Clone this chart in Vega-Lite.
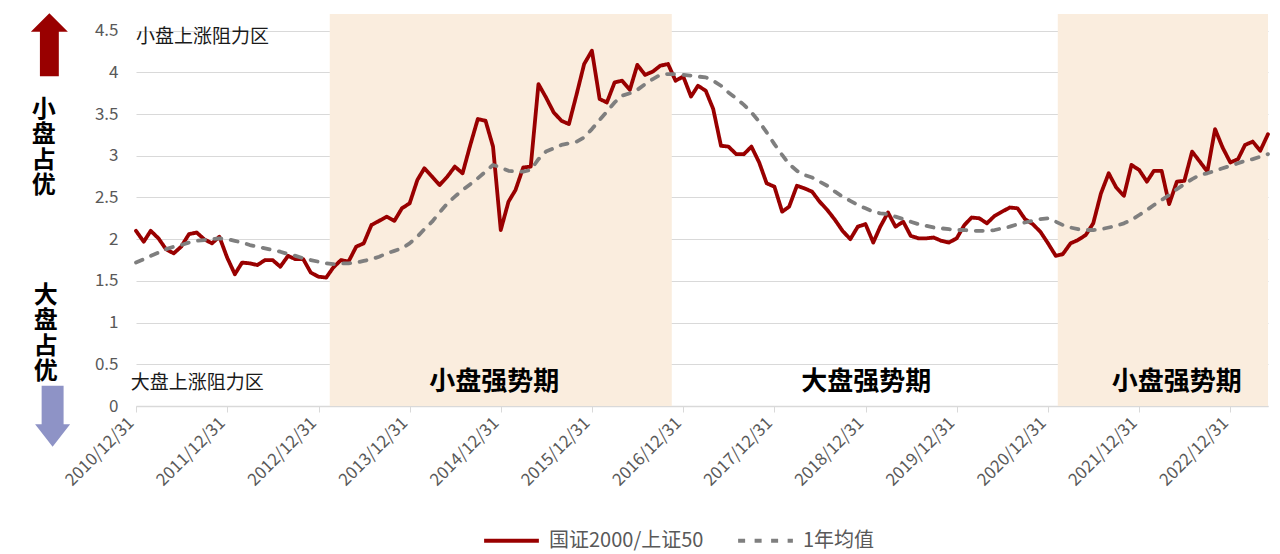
{
  "$schema": "https://vega.github.io/schema/vega-lite/v6.json",
  "width": 1132,
  "height": 392,
  "autosize": {"type": "none"},
  "padding": {"left": 136, "top": 14, "right": 12, "bottom": 148},
  "background": "white",
  "config": {"font": "Noto Sans CJK SC", "view": {"stroke": null}},
  "datasets": {
    "bands": [
      {"s": "2013-02-14", "e": "2016-11-15"},
      {"s": "2021-02-08", "e": "2023-05-31"}
    ],
    "series": [
      {"d": "2010-12-31", "国证2000/上证50": 2.10, "1年均值": 1.72},
      {"d": "2011-01-31", "国证2000/上证50": 1.97, "1年均值": 1.76},
      {"d": "2011-02-28", "国证2000/上证50": 2.10, "1年均值": 1.80},
      {"d": "2011-03-31", "国证2000/上证50": 2.01, "1年均值": 1.84},
      {"d": "2011-04-30", "国证2000/上证50": 1.88, "1年均值": 1.88},
      {"d": "2011-05-31", "国证2000/上证50": 1.83, "1年均值": 1.91},
      {"d": "2011-06-30", "国证2000/上证50": 1.91, "1年均值": 1.93},
      {"d": "2011-07-31", "国证2000/上证50": 2.06, "1年均值": 1.96},
      {"d": "2011-08-31", "国证2000/上证50": 2.08, "1年均值": 1.98},
      {"d": "2011-09-30", "国证2000/上证50": 2.00, "1年均值": 1.99},
      {"d": "2011-10-31", "国证2000/上证50": 1.95, "1年均值": 2.00},
      {"d": "2011-11-30", "国证2000/上证50": 2.03, "1年均值": 2.01},
      {"d": "2011-12-31", "国证2000/上证50": 1.78, "1年均值": 2.00},
      {"d": "2012-01-31", "国证2000/上证50": 1.58, "1年均值": 1.98},
      {"d": "2012-02-29", "国证2000/上证50": 1.72, "1年均值": 1.96},
      {"d": "2012-03-31", "国证2000/上证50": 1.71, "1年均值": 1.93},
      {"d": "2012-04-30", "国证2000/上证50": 1.69, "1年均值": 1.91},
      {"d": "2012-05-31", "国证2000/上证50": 1.75, "1年均值": 1.89},
      {"d": "2012-06-30", "国证2000/上证50": 1.75, "1年均值": 1.87},
      {"d": "2012-07-31", "国证2000/上证50": 1.67, "1年均值": 1.85},
      {"d": "2012-08-31", "国证2000/上证50": 1.80, "1年均值": 1.82},
      {"d": "2012-09-30", "国证2000/上证50": 1.76, "1年均值": 1.80},
      {"d": "2012-10-31", "国证2000/上证50": 1.76, "1年均值": 1.77},
      {"d": "2012-11-30", "国证2000/上证50": 1.60, "1年均值": 1.75},
      {"d": "2012-12-31", "国证2000/上证50": 1.55, "1年均值": 1.73},
      {"d": "2013-01-31", "国证2000/上证50": 1.54, "1年均值": 1.71},
      {"d": "2013-02-28", "国证2000/上证50": 1.66, "1年均值": 1.70},
      {"d": "2013-03-31", "国证2000/上证50": 1.75, "1年均值": 1.71},
      {"d": "2013-04-30", "国证2000/上证50": 1.73, "1年均值": 1.71},
      {"d": "2013-05-31", "国证2000/上证50": 1.91, "1年均值": 1.72},
      {"d": "2013-06-30", "国证2000/上证50": 1.95, "1年均值": 1.74},
      {"d": "2013-07-31", "国证2000/上证50": 2.17, "1年均值": 1.76},
      {"d": "2013-08-31", "国证2000/上证50": 2.22, "1年均值": 1.79},
      {"d": "2013-09-30", "国证2000/上证50": 2.27, "1年均值": 1.83},
      {"d": "2013-10-31", "国证2000/上证50": 2.22, "1年均值": 1.86},
      {"d": "2013-11-30", "国证2000/上证50": 2.37, "1年均值": 1.89},
      {"d": "2013-12-31", "国证2000/上证50": 2.43, "1年均值": 1.95},
      {"d": "2014-01-31", "国证2000/上证50": 2.71, "1年均值": 2.03},
      {"d": "2014-02-28", "国证2000/上证50": 2.85, "1年均值": 2.12},
      {"d": "2014-03-31", "国证2000/上证50": 2.75, "1年均值": 2.21},
      {"d": "2014-04-30", "国证2000/上证50": 2.65, "1年均值": 2.32},
      {"d": "2014-05-31", "国证2000/上证50": 2.75, "1年均值": 2.43},
      {"d": "2014-06-30", "国证2000/上证50": 2.87, "1年均值": 2.51},
      {"d": "2014-07-31", "国证2000/上证50": 2.79, "1年均值": 2.59},
      {"d": "2014-08-31", "国证2000/上证50": 3.13, "1年均值": 2.66},
      {"d": "2014-09-30", "国证2000/上证50": 3.44, "1年均值": 2.73},
      {"d": "2014-10-31", "国证2000/上证50": 3.42, "1年均值": 2.81},
      {"d": "2014-11-30", "国证2000/上证50": 3.11, "1年均值": 2.89},
      {"d": "2014-12-31", "国证2000/上证50": 2.11, "1年均值": 2.86},
      {"d": "2015-01-31", "国证2000/上证50": 2.45, "1年均值": 2.82},
      {"d": "2015-02-28", "国证2000/上证50": 2.59, "1年均值": 2.81},
      {"d": "2015-03-31", "国证2000/上证50": 2.86, "1年均值": 2.81},
      {"d": "2015-04-30", "国证2000/上证50": 2.87, "1年均值": 2.83},
      {"d": "2015-05-31", "国证2000/上证50": 3.86, "1年均值": 2.96},
      {"d": "2015-06-30", "国证2000/上证50": 3.70, "1年均值": 3.05},
      {"d": "2015-07-31", "国证2000/上证50": 3.52, "1年均值": 3.09},
      {"d": "2015-08-31", "国证2000/上证50": 3.42, "1年均值": 3.13},
      {"d": "2015-09-30", "国证2000/上证50": 3.38, "1年均值": 3.15},
      {"d": "2015-10-31", "国证2000/上证50": 3.74, "1年均值": 3.17},
      {"d": "2015-11-30", "国证2000/上证50": 4.10, "1年均值": 3.22},
      {"d": "2015-12-31", "国证2000/上证50": 4.26, "1年均值": 3.32},
      {"d": "2016-01-31", "国证2000/上证50": 3.68, "1年均值": 3.43},
      {"d": "2016-02-29", "国证2000/上证50": 3.64, "1年均值": 3.53},
      {"d": "2016-03-31", "国证2000/上证50": 3.88, "1年均值": 3.64},
      {"d": "2016-04-30", "国证2000/上证50": 3.90, "1年均值": 3.72},
      {"d": "2016-05-31", "国证2000/上证50": 3.79, "1年均值": 3.75},
      {"d": "2016-06-30", "国证2000/上证50": 4.09, "1年均值": 3.79},
      {"d": "2016-07-31", "国证2000/上证50": 3.97, "1年均值": 3.86},
      {"d": "2016-08-31", "国证2000/上证50": 4.01, "1年均值": 3.92},
      {"d": "2016-09-30", "国证2000/上证50": 4.08, "1年均值": 3.97},
      {"d": "2016-10-31", "国证2000/上证50": 4.10, "1年均值": 3.98},
      {"d": "2016-11-30", "国证2000/上证50": 3.90, "1年均值": 3.98},
      {"d": "2016-12-31", "国证2000/上证50": 3.95, "1年均值": 3.97},
      {"d": "2017-01-31", "国证2000/上证50": 3.71, "1年均值": 3.96},
      {"d": "2017-02-28", "国证2000/上证50": 3.84, "1年均值": 3.95},
      {"d": "2017-03-31", "国证2000/上证50": 3.78, "1年均值": 3.94},
      {"d": "2017-04-30", "国证2000/上证50": 3.56, "1年均值": 3.90},
      {"d": "2017-05-31", "国证2000/上证50": 3.12, "1年均值": 3.84},
      {"d": "2017-06-30", "国证2000/上证50": 3.11, "1年均值": 3.76},
      {"d": "2017-07-31", "国证2000/上证50": 3.02, "1年均值": 3.69},
      {"d": "2017-08-31", "国证2000/上证50": 3.02, "1年均值": 3.61},
      {"d": "2017-09-30", "国证2000/上证50": 3.11, "1年均值": 3.52},
      {"d": "2017-10-31", "国证2000/上证50": 2.92, "1年均值": 3.41},
      {"d": "2017-11-30", "国证2000/上证50": 2.67, "1年均值": 3.28},
      {"d": "2017-12-31", "国证2000/上证50": 2.63, "1年均值": 3.14},
      {"d": "2018-01-31", "国证2000/上证50": 2.33, "1年均值": 3.01},
      {"d": "2018-02-28", "国证2000/上证50": 2.39, "1年均值": 2.90},
      {"d": "2018-03-31", "国证2000/上证50": 2.64, "1年均值": 2.82},
      {"d": "2018-04-30", "国证2000/上证50": 2.61, "1年均值": 2.77},
      {"d": "2018-05-31", "国证2000/上证50": 2.57, "1年均值": 2.74},
      {"d": "2018-06-30", "国证2000/上证50": 2.45, "1年均值": 2.69},
      {"d": "2018-07-31", "国证2000/上证50": 2.35, "1年均值": 2.64},
      {"d": "2018-08-31", "国证2000/上证50": 2.23, "1年均值": 2.57},
      {"d": "2018-09-30", "国证2000/上证50": 2.10, "1年均值": 2.51},
      {"d": "2018-10-31", "国证2000/上证50": 2.00, "1年均值": 2.46},
      {"d": "2018-11-30", "国证2000/上证50": 2.15, "1年均值": 2.41},
      {"d": "2018-12-31", "国证2000/上证50": 2.18, "1年均值": 2.37},
      {"d": "2019-01-31", "国证2000/上证50": 1.96, "1年均值": 2.33},
      {"d": "2019-02-28", "国证2000/上证50": 2.15, "1年均值": 2.31},
      {"d": "2019-03-31", "国证2000/上证50": 2.32, "1年均值": 2.30},
      {"d": "2019-04-30", "国证2000/上证50": 2.15, "1年均值": 2.27},
      {"d": "2019-05-31", "国证2000/上证50": 2.21, "1年均值": 2.24},
      {"d": "2019-06-30", "国证2000/上证50": 2.04, "1年均值": 2.21},
      {"d": "2019-07-31", "国证2000/上证50": 2.01, "1年均值": 2.18},
      {"d": "2019-08-31", "国证2000/上证50": 2.01, "1年均值": 2.16},
      {"d": "2019-09-30", "国证2000/上证50": 2.02, "1年均值": 2.14},
      {"d": "2019-10-31", "国证2000/上证50": 1.98, "1年均值": 2.13},
      {"d": "2019-11-30", "国证2000/上证50": 1.96, "1年均值": 2.12},
      {"d": "2019-12-31", "国证2000/上证50": 2.01, "1年均值": 2.11},
      {"d": "2020-01-31", "国证2000/上证50": 2.17, "1年均值": 2.11},
      {"d": "2020-02-29", "国证2000/上证50": 2.26, "1年均值": 2.10},
      {"d": "2020-03-31", "国证2000/上证50": 2.25, "1年均值": 2.10},
      {"d": "2020-04-30", "国证2000/上证50": 2.19, "1年均值": 2.10},
      {"d": "2020-05-31", "国证2000/上证50": 2.28, "1年均值": 2.11},
      {"d": "2020-06-30", "国证2000/上证50": 2.33, "1年均值": 2.13},
      {"d": "2020-07-31", "国证2000/上证50": 2.38, "1年均值": 2.15},
      {"d": "2020-08-31", "国证2000/上证50": 2.37, "1年均值": 2.18},
      {"d": "2020-09-30", "国证2000/上证50": 2.24, "1年均值": 2.20},
      {"d": "2020-10-31", "国证2000/上证50": 2.18, "1年均值": 2.22},
      {"d": "2020-11-30", "国证2000/上证50": 2.09, "1年均值": 2.24},
      {"d": "2020-12-31", "国证2000/上证50": 1.95, "1年均值": 2.25},
      {"d": "2021-01-31", "国证2000/上证50": 1.80, "1年均值": 2.21},
      {"d": "2021-02-28", "国证2000/上证50": 1.82, "1年均值": 2.17},
      {"d": "2021-03-31", "国证2000/上证50": 1.95, "1年均值": 2.14},
      {"d": "2021-04-30", "国证2000/上证50": 1.99, "1年均值": 2.12},
      {"d": "2021-05-31", "国证2000/上证50": 2.05, "1年均值": 2.11},
      {"d": "2021-06-30", "国证2000/上证50": 2.19, "1年均值": 2.11},
      {"d": "2021-07-31", "国证2000/上证50": 2.55, "1年均值": 2.12},
      {"d": "2021-08-31", "国证2000/上证50": 2.79, "1年均值": 2.14},
      {"d": "2021-09-30", "国证2000/上证50": 2.62, "1年均值": 2.16},
      {"d": "2021-10-31", "国证2000/上证50": 2.52, "1年均值": 2.19},
      {"d": "2021-11-30", "国证2000/上证50": 2.89, "1年均值": 2.23},
      {"d": "2021-12-31", "国证2000/上证50": 2.83, "1年均值": 2.29},
      {"d": "2022-01-31", "国证2000/上证50": 2.69, "1年均值": 2.35},
      {"d": "2022-02-28", "国证2000/上证50": 2.82, "1年均值": 2.41},
      {"d": "2022-03-31", "国证2000/上证50": 2.82, "1年均值": 2.47},
      {"d": "2022-04-30", "国证2000/上证50": 2.42, "1年均值": 2.53},
      {"d": "2022-05-31", "国证2000/上证50": 2.69, "1年均值": 2.60},
      {"d": "2022-06-30", "国证2000/上证50": 2.70, "1年均值": 2.66},
      {"d": "2022-07-31", "国证2000/上证50": 3.05, "1年均值": 2.72},
      {"d": "2022-08-31", "国证2000/上证50": 2.93, "1年均值": 2.77},
      {"d": "2022-09-30", "国证2000/上证50": 2.81, "1年均值": 2.79},
      {"d": "2022-10-31", "国证2000/上证50": 3.32, "1年均值": 2.82},
      {"d": "2022-11-30", "国证2000/上证50": 3.10, "1年均值": 2.85},
      {"d": "2022-12-31", "国证2000/上证50": 2.92, "1年均值": 2.88},
      {"d": "2023-01-31", "国证2000/上证50": 2.96, "1年均值": 2.91},
      {"d": "2023-02-28", "国证2000/上证50": 3.13, "1年均值": 2.94},
      {"d": "2023-03-31", "国证2000/上证50": 3.17, "1年均值": 2.96},
      {"d": "2023-04-30", "国证2000/上证50": 3.06, "1年均值": 2.99},
      {"d": "2023-05-31", "国证2000/上证50": 3.26, "1年均值": 3.02}
    ]
  },
  "layer": [
    {
      "data": {"name": "bands"},
      "mark": {"type": "rect", "color": "#FAEDDE"},
      "encoding": {
        "x": {"field": "s", "type": "temporal"},
        "x2": {"field": "e"},
        "y": {"datum": 0, "type": "quantitative"},
        "y2": {"datum": 4.7}
      }
    },
    {
      "data": {"name": "series"},
      "transform": [{"fold": ["国证2000/上证50", "1年均值"], "as": ["k", "v"]}],
      "mark": {"type": "line", "strokeWidth": 3.8, "strokeCap": "round", "strokeJoin": "round"},
      "encoding": {
        "x": {
          "field": "d", "type": "temporal",
          "scale": {"type": "utc", "domain": [{"year": 2010, "month": 12, "date": 31, "utc": true}, {"year": 2023, "month": 5, "date": 31, "utc": true}]},
          "axis": {
            "title": null,
            "values": [
              {"year": 2010, "month": 12, "date": 31, "utc": true},
              {"year": 2011, "month": 12, "date": 31, "utc": true},
              {"year": 2012, "month": 12, "date": 31, "utc": true},
              {"year": 2013, "month": 12, "date": 31, "utc": true},
              {"year": 2014, "month": 12, "date": 31, "utc": true},
              {"year": 2015, "month": 12, "date": 31, "utc": true},
              {"year": 2016, "month": 12, "date": 31, "utc": true},
              {"year": 2017, "month": 12, "date": 31, "utc": true},
              {"year": 2018, "month": 12, "date": 31, "utc": true},
              {"year": 2019, "month": 12, "date": 31, "utc": true},
              {"year": 2020, "month": 12, "date": 31, "utc": true},
              {"year": 2021, "month": 12, "date": 31, "utc": true},
              {"year": 2022, "month": 12, "date": 31, "utc": true}
            ],
            "format": "%Y/%m/%d",
            "labelAngle": -45,
            "labelAlign": "right",
            "labelBaseline": "middle",
            "grid": false,
            "domainColor": "#D9D9D9",
            "domainWidth": 1.5,
            "tickColor": "#D9D9D9",
            "tickSize": 6,
            "labelFontSize": 17,
            "labelColor": "#595959",
            "labelPadding": 8,
            "labelOffset": -5,
            "labelFlush": false,
            "labelOverlap": false
          }
        },
        "y": {
          "field": "v", "type": "quantitative",
          "scale": {"domain": [0, 4.7], "nice": false},
          "axis": {
            "title": null,
            "values": [0, 0.5, 1, 1.5, 2, 2.5, 3, 3.5, 4, 4.5],
            "format": "~g",
            "domain": false,
            "ticks": false,
            "grid": true,
            "gridColor": "#D9D9D9",
            "gridWidth": 1,
            "labelFontSize": 17,
            "labelColor": "#595959",
            "labelPadding": 18
          }
        },
        "color": {
          "field": "k", "type": "nominal",
          "scale": {"domain": ["国证2000/上证50", "1年均值"], "range": ["#990000", "#7F7F7F"]},
          "legend": {
            "title": null, "orient": "none", "legendX": 346, "legendY": 497,
            "direction": "horizontal", "symbolType": "stroke", "symbolSize": 3000,
            "symbolStrokeWidth": 4, "labelFontSize": 20, "labelColor": "#595959",
            "labelOffset": 8, "columnPadding": 26, "padding": 0, "labelLimit": 300
          }
        },
        "strokeDash": {
          "field": "k", "type": "nominal",
          "scale": {"domain": ["国证2000/上证50", "1年均值"], "range": [[1, 0], [7, 9.5]]},
          "legend": {
            "title": null, "orient": "none", "legendX": 346, "legendY": 497,
            "direction": "horizontal", "symbolType": "stroke", "symbolSize": 3000,
            "symbolStrokeWidth": 4, "labelFontSize": 20, "labelColor": "#595959",
            "labelOffset": 8, "columnPadding": 26, "padding": 0, "labelLimit": 300
          }
        }
      }
    },
    {
      "data": {"values": [{}]},
      "mark": {"type": "text", "text": "小盘上涨阻力区", "align": "left", "baseline": "middle", "fontSize": 19, "color": "#1A1A1A"},
      "encoding": {
        "x": {"datum": {"year": 2010, "month": 12, "date": 31, "utc": true}, "type": "temporal"},
        "y": {"datum": 4.43, "type": "quantitative"}
      }
    },
    {
      "data": {"values": [{}]},
      "mark": {"type": "text", "text": "大盘上涨阻力区", "align": "left", "baseline": "middle", "fontSize": 19, "color": "#1A1A1A"},
      "encoding": {
        "x": {"datum": {"year": 2010, "month": 12, "date": 10, "utc": true}, "type": "temporal"},
        "y": {"datum": 0.28, "type": "quantitative"}
      }
    },
    {
      "data": {"values": [{}]},
      "mark": {"type": "text", "text": "小盘强势期", "align": "center", "baseline": "middle", "fontSize": 26, "fontWeight": "bold", "color": "#000000"},
      "encoding": {
        "x": {"datum": {"year": 2014, "month": 12, "date": 5, "utc": true}, "type": "temporal"},
        "y": {"datum": 0.29, "type": "quantitative"}
      }
    },
    {
      "data": {"values": [{}]},
      "mark": {"type": "text", "text": "大盘强势期", "align": "center", "baseline": "middle", "fontSize": 26, "fontWeight": "bold", "color": "#000000"},
      "encoding": {
        "x": {"datum": {"year": 2019, "month": 1, "date": 3, "utc": true}, "type": "temporal"},
        "y": {"datum": 0.29, "type": "quantitative"}
      }
    },
    {
      "data": {"values": [{}]},
      "mark": {"type": "text", "text": "小盘强势期", "align": "center", "baseline": "middle", "fontSize": 26, "fontWeight": "bold", "color": "#000000"},
      "encoding": {
        "x": {"datum": {"year": 2022, "month": 5, "date": 31, "utc": true}, "type": "temporal"},
        "y": {"datum": 0.29, "type": "quantitative"}
      }
    },
    {
      "data": {"values": [{}]},
      "mark": {"type": "text", "text": ["小", "盘", "占", "优"], "align": "center", "baseline": "middle", "fontSize": 24, "fontWeight": "bold", "lineHeight": 25.5, "color": "#000000"},
      "encoding": {
        "x": {"datum": {"year": 2009, "month": 12, "date": 27, "utc": true}, "type": "temporal"},
        "y": {"datum": 3.55, "type": "quantitative"}
      }
    },
    {
      "data": {"values": [{}]},
      "mark": {"type": "text", "text": ["大", "盘", "占", "优"], "align": "center", "baseline": "middle", "fontSize": 24, "fontWeight": "bold", "lineHeight": 25.5, "color": "#000000"},
      "encoding": {
        "x": {"datum": {"year": 2010, "month": 1, "date": 4, "utc": true}, "type": "temporal"},
        "y": {"datum": 1.32, "type": "quantitative"}
      }
    },
    {
      "data": {"values": [{}]},
      "mark": {"type": "point", "shape": "M0,-1L0.587,-0.416L0.3,-0.416L0.3,1L-0.3,1L-0.3,-0.416L-0.587,-0.416Z", "size": 3969, "filled": true, "color": "#990000", "opacity": 1, "strokeWidth": 0},
      "encoding": {
        "x": {"datum": {"year": 2010, "month": 1, "date": 18, "utc": true}, "type": "temporal"},
        "y": {"datum": 4.33, "type": "quantitative"}
      }
    },
    {
      "data": {"values": [{}]},
      "mark": {"type": "point", "shape": "M0,1L0.574,0.256L0.36,0.256L0.36,-1L-0.36,-1L-0.36,0.256L-0.574,0.256Z", "size": 3721, "filled": true, "color": "#8E93C6", "opacity": 1, "strokeWidth": 0},
      "encoding": {
        "x": {"datum": {"year": 2010, "month": 1, "date": 31, "utc": true}, "type": "temporal"},
        "y": {"datum": -0.124, "type": "quantitative"}
      }
    }
  ]
}
